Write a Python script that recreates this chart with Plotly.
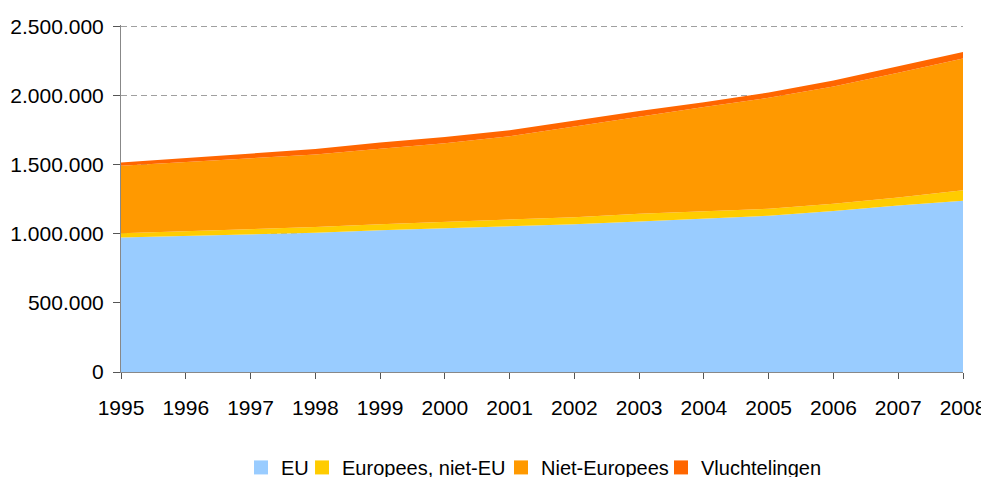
import plotly.graph_objects as go

years = list(range(1995, 2009))
eu = [973000, 985000, 995000, 1008000, 1026000, 1040000, 1055000, 1068000, 1088000, 1110000, 1130000, 1165000, 1205000, 1238000]
europees_niet_eu = [30000, 33000, 36000, 40000, 43000, 45000, 48000, 52000, 57000, 55000, 50000, 52000, 57000, 77000]
vluchtelingen = [24000, 30000, 35000, 40000, 45000, 45000, 42000, 40000, 38000, 35000, 38000, 42000, 45000, 46000]
totaal = [1515000, 1548000, 1585000, 1613000, 1660000, 1700000, 1748000, 1818000, 1888000, 1952000, 2022000, 2108000, 2210000, 2314000]
niet_europees = [t - a - b - c for t, a, b, c in zip(totaal, eu, europees_niet_eu, vluchtelingen)]
y_ticks = [0, 500000, 1000000, 1500000, 2000000, 2500000]
y_ticktext = ["0", "500.000", "1.000.000", "1.500.000", "2.000.000", "2.500.000"]

series = [
    ("EU", eu, "#99CCFF"),
    ("Europees, niet-EU", europees_niet_eu, "#FFCC00"),
    ("Niet-Europees", niet_europees, "#FF9900"),
    ("Vluchtelingen", vluchtelingen, "#FF6600"),
]
legend_ids = ["legend", "legend2", "legend3", "legend4"]
legend_x = [0.1425, 0.2150, 0.4513, 0.6413]

fig = go.Figure()
for name, vals, col in series:
    fig.add_trace(go.Scatter(
        x=years, y=vals, name=name, mode="lines", stackgroup="one",
        line=dict(width=0, color=col), fillcolor=col, showlegend=False,
    ))
for (name, vals, col), lid in zip(series, legend_ids):
    fig.add_trace(go.Scatter(
        x=[None], y=[None], name=name, mode="markers", legend=lid,
        marker=dict(symbol="square", size=14, color=col), showlegend=True,
    ))

legend_common = dict(orientation="h", xanchor="left", y=-0.275, yanchor="middle",
                     font=dict(size=20), itemwidth=30, bgcolor="rgba(0,0,0,0)")
legends = {lid: dict(x=lx, **legend_common) for lid, lx in zip(legend_ids, legend_x)}

fig.update_layout(
    width=981, height=469,
    margin=dict(l=113, r=26, t=17, b=105, autoexpand=False),
    paper_bgcolor="white", plot_bgcolor="white",
    font=dict(family="Liberation Sans, Arial, sans-serif", size=21, color="black"),
    showlegend=True,
    xaxis=dict(
        range=[1995, 2008], tickmode="array", tickvals=years,
        ticktext=[str(y) for y in years],
        showgrid=False, showline=True, linecolor="#888888", linewidth=1,
        ticks="outside", ticklen=6, tickcolor="#555555",
        ticklabelstandoff=11, zeroline=False,
    ),
    yaxis=dict(
        range=[0, 2510000], tickmode="array", tickvals=y_ticks, ticktext=y_ticktext,
        showgrid=True, gridcolor="#A0A0A0", griddash="6px,4px", gridwidth=1,
        showline=True, linecolor="#888888", linewidth=1,
        ticks="outside", ticklen=7, tickcolor="#555555", zeroline=False,
        ticklabelstandoff=5,
    ),
    **legends,
)

fig.write_html("out.html")
